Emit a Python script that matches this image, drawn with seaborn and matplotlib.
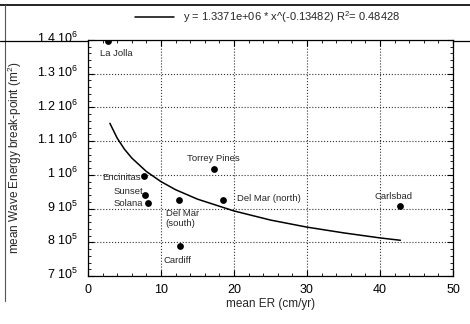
import numpy as np
import pandas as pd
import matplotlib
matplotlib.use('Agg')
import matplotlib.pyplot as plt
import matplotlib.transforms as mtransforms
from matplotlib.lines import Line2D
from matplotlib.ticker import MultipleLocator, FixedLocator
import seaborn as sns

# site data
sites = ['La Jolla', 'Encinitas', 'Sunset', 'Solana', 'Del Mar\n(south)',
         'Cardiff', 'Torrey Pines', 'Del Mar (north)', 'Carlsbad']
er = [2.7, 7.7, 7.8, 8.2, 12.4, 12.6, 17.3, 18.5, 42.8]
energy = [1.398e6, 0.997e6, 0.940e6, 0.916e6, 0.925e6, 0.789e6, 1.017e6, 0.926e6, 0.907e6]

# power-law fit curve
fit_x = [3, 4, 5, 6, 8, 10, 12, 15, 20, 25, 30, 35, 40, 42.8]
fit_y = [1.153e6, 1.109e6, 1.076e6, 1.050e6, 1.010e6, 0.980e6, 0.956e6,
         0.928e6, 0.893e6, 0.866e6, 0.845e6, 0.828e6, 0.813e6, 0.806e6]

ytick_vals = [7e5, 8e5, 9e5, 1e6, 1.1e6, 1.2e6, 1.3e6, 1.4e6]
ytick_labels = [r'7 $10^5$', r'8 $10^5$', r'9 $10^5$', r'1 $10^6$',
                r'1.1 $10^6$', r'1.2 $10^6$', r'1.3 $10^6$', r'1.4 $10^6$']

sns.set_style('ticks')
plt.rcParams['font.family'] = ['Liberation Sans', 'DejaVu Sans']
plt.rcParams['mathtext.fontset'] = 'custom'
plt.rcParams['mathtext.rm'] = 'Liberation Sans'
plt.rcParams['mathtext.it'] = 'Liberation Sans'

df = pd.DataFrame({'er': er, 'energy': energy, 'site': sites})
fit = pd.DataFrame({'x': fit_x, 'y': fit_y})

fig = plt.figure(figsize=(4.70, 3.24), dpi=100)
ax = fig.add_axes([0.1872, 0.1481, 0.7766, 0.7284])

sns.lineplot(data=fit, x='x', y='y', color='black', linewidth=1.1, ax=ax,
             label='y = 1.3371e+06 * x^(-0.13482) R$^2$= 0.48428')
sns.scatterplot(data=df, x='er', y='energy', color='black', s=24,
                edgecolor='black', linewidth=0, ax=ax, zorder=5)

# point labels: (dx, dy) offsets in pixels, alignment
offs = {
    'La Jolla': (-8, -13, 'left', 'center'),
    'Encinitas': (-3, -2, 'right', 'center'),
    'Sunset': (-2, 4, 'right', 'center'),
    'Solana': (-5, 0, 'right', 'center'),
    'Del Mar\n(south)': (-13, -9, 'left', 'top'),
    'Cardiff': (-2, -14, 'center', 'center'),
    'Torrey Pines': (-1, 11, 'center', 'center'),
    'Del Mar (north)': (14, 1, 'left', 'center'),
    'Carlsbad': (-7, 10, 'center', 'center'),
}
for _, r in df.iterrows():
    dx, dy, ha, va = offs[r['site']]
    ax.annotate(r['site'], (r['er'], r['energy']), xytext=(dx * 0.72, dy * 0.72),
                textcoords='offset points', ha=ha, va=va, fontsize=6.8,
                linespacing=1.1)

ax.set_xlim(0, 50)
ax.set_ylim(7e5, 1.4e6)
ax.xaxis.set_major_locator(MultipleLocator(10))
ax.xaxis.set_minor_locator(MultipleLocator(2))
ax.yaxis.set_major_locator(FixedLocator(ytick_vals))
ax.yaxis.set_minor_locator(MultipleLocator(2e4))
ax.set_yticklabels(ytick_labels)
ax.tick_params(which='both', direction='in', top=True, right=True,
               labelsize=9, colors='black')
ax.tick_params(axis='y', which='major', length=4, width=0.8, pad=7)
ax.tick_params(axis='x', which='major', length=4, width=0.8, pad=6)
ax.tick_params(which='minor', length=2, width=0.6)

# nudge y tick labels up a little, like the original
shift = mtransforms.ScaledTranslation(0, 3 / 100, fig.dpi_scale_trans)
for lab in ax.get_yticklabels():
    lab.set_verticalalignment('center_baseline')
    lab.set_transform(lab.get_transform() + shift)

ax.grid(True, which='major', linestyle=':', color='#333333', linewidth=0.8)
for s in ax.spines.values():
    s.set_linewidth(0.9)
    s.set_color('black')

ax.set_xlabel('mean ER (cm/yr)', fontsize=8.5, labelpad=1)
ax.set_ylabel('mean Wave Energy break-point (m$^2$)', fontsize=8.5, labelpad=9)

ax.legend(loc='center', bbox_to_anchor=(0.57, 0.948), bbox_transform=fig.transFigure,
          frameon=False, fontsize=8, handlelength=3.5, handletextpad=0.8)

# frame lines around the scanned figure
fig.add_artist(Line2D([0, 1], [0.985, 0.985], color='black', linewidth=1.2))
fig.add_artist(Line2D([0.011, 0.011], [0.07, 0.985], color='#555555', linewidth=0.8))
fig.add_artist(Line2D([0, 0.1872], [0.872, 0.872], color='black', linewidth=0.9))
fig.add_artist(Line2D([0.9638, 1], [0.872, 0.872], color='black', linewidth=0.9))

fig.savefig('out.png', dpi=100)
